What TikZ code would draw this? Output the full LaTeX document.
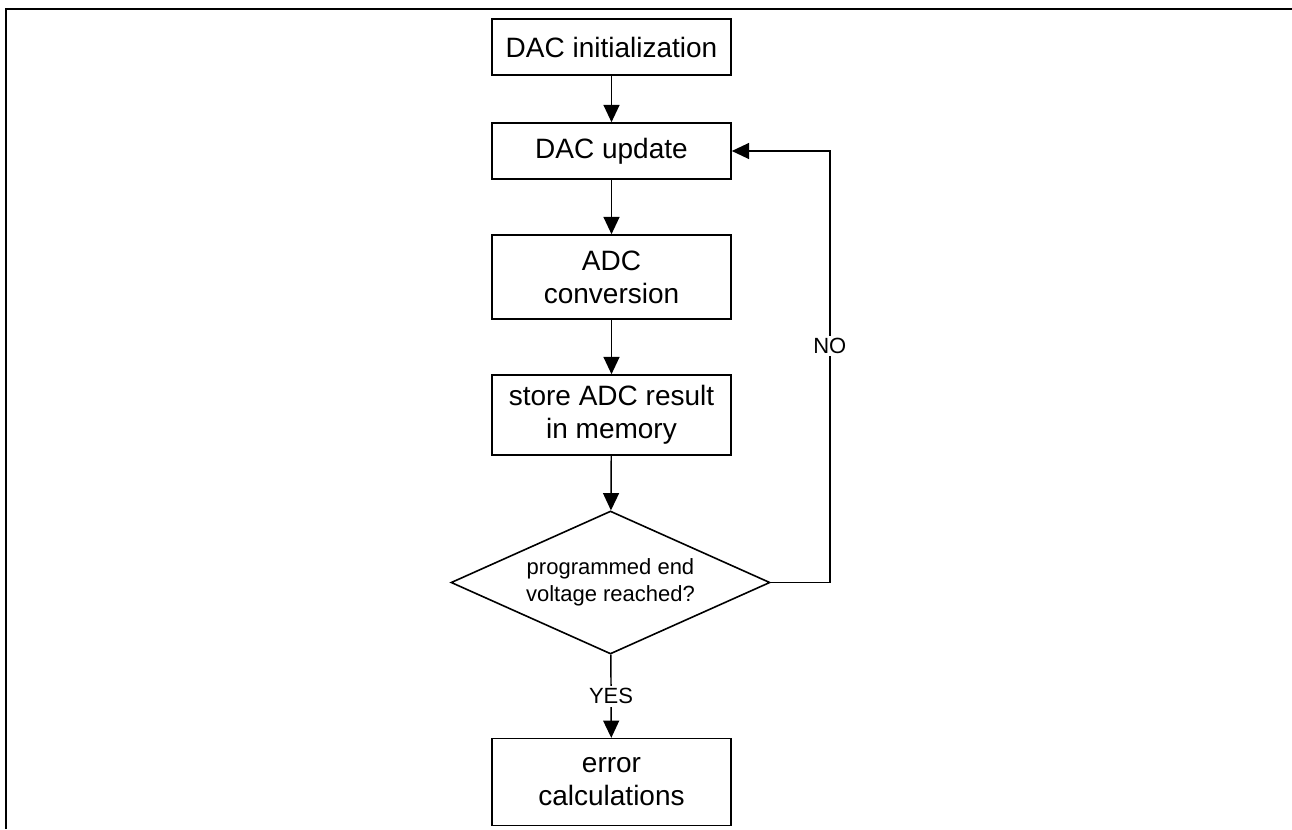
\documentclass[tikz,border=0pt]{standalone}
\usepackage{fontspec}
\setmainfont{Liberation Sans}
\usetikzlibrary{shapes.geometric,arrows.meta}

\begin{document}
\begin{tikzpicture}[x=0.75pt,y=0.75pt,yscale=-1,xscale=1,
	procbox/.style={draw,line width=1.2pt,minimum width=179.25pt,align=center,inner sep=2pt,font=\fontsize{21}{24.75}\selectfont},
	testbox/.style={draw,diamond,line width=1.2pt,aspect=2.23,minimum width=239.25pt,minimum height=107.25pt,inner sep=0pt,align=center,font=\fontsize{16.5}{20}\selectfont},
	flow/.style={line width=1.1pt,-{Triangle[length=13pt,width=12pt]}},
	branch/.style={fill=white,inner sep=2pt,font=\fontsize{16.5}{20}\selectfont}]
	\useasboundingbox (0,0) rectangle (1292,829);
	
	%Frame
	\draw [line width=2.2pt] (6,829) -- (6,9) -- (1292,9) ;
	
	%Shape: Rectangle
	\node [procbox,minimum height=42pt] (init) at (611.5,47) {DAC initialization};
	%Shape: Rectangle
	\node [procbox,minimum height=42pt] (update) at (611.5,151) {DAC update};
	%Shape: Rectangle
	\node [procbox,minimum height=63pt] (adc) at (611.5,277) {ADC\\conversion};
	%Shape: Rectangle
	\node [procbox,minimum height=60pt] (store) at (611.5,415) {store ADC result\\in memory};
	%Shape: Diamond
	\node [testbox] (endv) at (610.5,582.5) {programmed end\\voltage reached?};
	%Shape: Rectangle
	\node [procbox,minimum height=65pt] (err) at (611.5,782) {error\\calculations};
	
	%Straight Lines
	\draw [flow] (init) -- (update) ;
	\draw [flow] (update) -- (adc) ;
	\draw [flow] (adc) -- (store) ;
	\draw [flow] (store) -- (endv) ;
	\draw [flow] (endv) -- node [branch] {YES} (err) ;
	%Loop back
	\draw [flow] (endv.east) -- ++(59,0) |- node [branch,pos=0.274] {NO} (update.east) ;
	
\end{tikzpicture}
\end{document}
